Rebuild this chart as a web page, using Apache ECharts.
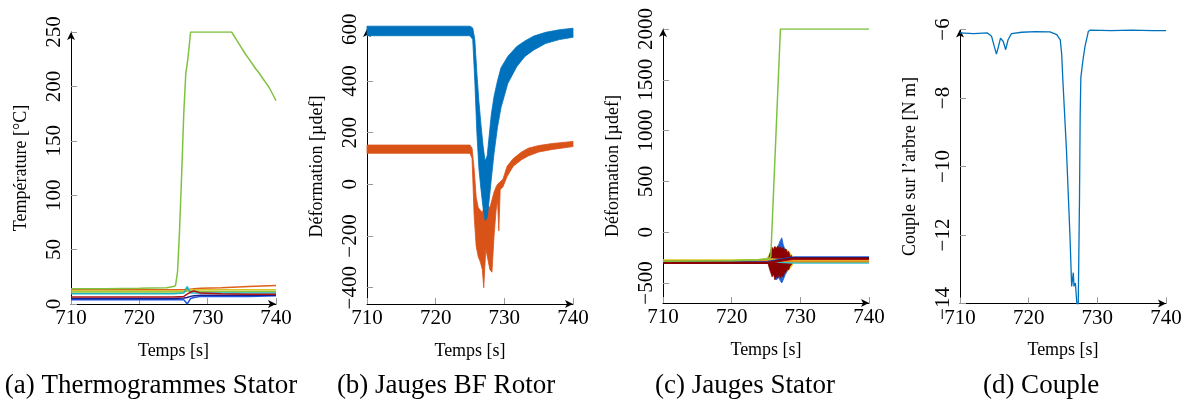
<!DOCTYPE html>
<html><head><meta charset="utf-8">
<script src="https://cdn.jsdelivr.net/npm/echarts@6/dist/echarts.min.js"></script>
<style>html,body{margin:0;padding:0;background:#fff}#c{width:1192px;height:405px}</style>
</head><body><div id="c"></div><script>
// ---------- tick labels ----------
var X_TICKS = [710, 720, 730, 740];
var A_TICKS = [0, 50, 100, 150, 200, 250];
var B_TICKS = [-400, -200, 0, 200, 400, 600];
var C_TICKS = [-500, 0, 500, 1000, 1500, 2000];
var D_TICKS = [-14, -12, -10, -8, -6];
var CAPTIONS = ['(a) Thermogrammes Stator', '(b) Jauges BF Rotor', '(c) Jauges Stator', '(d) Couple'];
var Y_NAMES = ['Température [°C]', 'Déformation [µdef]', 'Déformation [µdef]', 'Couple sur l’arbre [N m]'];
var X_NAME = 'Temps [s]';

// ---------- (a) Thermogrammes Stator ----------
var A_T_GREEN = [710, 715, 720, 724, 725, 725.3, 725.6, 725.9, 726.2, 726.5, 726.8, 727.1, 727.5, 733.5, 734, 734.5, 735, 735.5, 736, 736.5, 737, 737.5, 738, 738.5, 739, 739.5, 740];
var A_GREEN = [14, 14, 14.5, 15, 16, 17, 30, 70, 120, 175, 212, 225, 250, 250, 245, 240, 235, 230, 225.5, 221, 216.5, 212.5, 208, 203.5, 199, 193, 187];
var A_T = [710, 720, 725, 726.5, 727, 727.5, 728, 729, 732, 736, 740];
var A_ORANGE = [13, 13, 13, 13, 13.5, 13.5, 14, 14.5, 15, 16, 17];
var A_YELLOW = [12, 12, 12, 12, 12.5, 13, 13, 13, 13, 13, 13];
var A_LGREEN = [11, 11, 11, 11, 12, 12, 12, 11.5, 11.5, 11.5, 11.5];
var A_TEAL = [9.5, 9.5, 9.5, 10, 16, 10, 10, 10, 10, 10, 10];
var A_RED = [6.5, 6.5, 6.5, 7, 9, 11, 12, 10, 9.5, 9, 9];
var A_DBLUE = [5, 5, 5, 5.5, 6, 7, 7.5, 8, 8, 8, 8];
var A_BLUE = [4, 4, 4, 4, 0, 5, 6, 7, 7, 7, 7.5];

// ---------- (b) Jauges BF Rotor (noise envelopes) ----------
var B_T_BLUE = [710, 725, 725.4, 725.7, 726.0, 726.3, 726.6, 726.9, 727.2, 727.5, 727.8, 728.1, 728.5, 729, 729.5, 730.5, 731.8, 733, 734.3, 736, 738, 740];
var B_BLUE_HI = [612, 612, 605, 560, 430, 320, 230, 150, 90, 110, 190, 270, 340, 400, 450, 495, 533, 555, 574, 588, 598, 604];
var B_BLUE_LO = [575, 575, 560, 400, 200, 60, -20, -90, -140, -130, -60, 20, 120, 220, 295, 390, 455, 495, 520, 545, 560, 569];
var B_T_OR = [710, 725, 725.3, 725.6, 725.9, 726.2, 726.5, 726.8, 727.0, 727.3, 727.6, 727.9, 728.2, 728.5, 728.8, 729.0, 729.2, 729.4, 729.8, 730.4, 731.3, 732.5, 733.5, 735, 737, 740];
var B_OR_HI = [152, 152, 140, 60, -50, -90, -100, -110, -90, -60, -80, -90, -60, -30, -10, 0, 5, 10, 20, 70, 100, 125, 140, 150, 158, 166];
var B_OR_LO = [120, 120, 100, -120, -240, -280, -300, -330, -400, -250, -290, -330, -340, -200, -100, -60, -180, -20, -10, 30, 70, 95, 110, 125, 135, 146];

// ---------- (c) Jauges Stator ----------
var C_T_GREEN = [710, 720, 724, 725.4, 725.7, 727.1, 740];
var C_GREEN = [-285, -280, -272, -262, -240, 2000, 2000];
var C_T = [710, 720, 724, 725.3, 728.8, 729.2, 735, 740];
var C_CYAN = [-292, -292, -290, -285, -300, -302, -302, -302];
var C_YELLOW = [-276, -276, -272, -265, -280, -282, -282, -282];
var C_ORANGE = [-284, -284, -282, -278, -286, -288, -288, -288];
var C_BLUE = [-295, -295, -295, -290, -248, -247, -247, -247];
var C_DBLUE = [-298, -298, -298, -295, -253, -253, -253, -253];
var C_RED = [-300, -300, -300, -300, -263, -263, -263, -263];
var C_DRED = [-304, -304, -304, -304, -258, -258, -258, -258];
var C_T_YB = [725.0, 725.4, 725.8, 726.2, 726.8, 727.5, 728.2, 728.8, 729.0];
var C_YB_HI = [-270, -230, -160, -150, -150, -150, -180, -230, -275];
var C_YB_LO = [-290, -320, -360, -400, -420, -400, -380, -330, -290];
var C_T_BB = [725.5, 726, 726.5, 726.8, 727.1, 727.3, 727.5, 727.8, 728.1, 728.5];
var C_BB_HI = [-290, -220, -170, -130, -80, -55, -120, -180, -210, -260];
var C_BB_LO = [-300, -400, -470, -440, -480, -500, -470, -420, -380, -300];
var C_T_RB = [725.3, 725.5, 725.7, 725.9, 726.1, 726.3, 726.5, 726.7, 726.9, 727.1, 727.3, 727.5, 727.7, 727.9, 728.1, 728.3, 728.5, 728.7, 728.8];
var C_RB_HI = [-285, -230, -190, -150, -175, -140, -165, -135, -160, -145, -170, -150, -175, -165, -200, -190, -240, -230, -270];
var C_RB_LO = [-305, -360, -400, -440, -410, -470, -430, -455, -410, -450, -420, -440, -400, -390, -360, -370, -330, -320, -300];

// ---------- (d) Couple ----------
var D_T = [710, 712, 714, 714.6, 715.0, 715.3, 715.6, 715.9, 716.3, 716.65, 717.0, 717.5, 719, 721, 723.1, 724.1, 724.6, 724.8, 725.0, 725.5, 726.0, 726.26, 726.5, 726.6, 726.8, 727.0, 727.2, 727.3, 727.4, 727.5, 727.6, 727.9, 728.2, 728.4, 728.7, 729, 732, 735, 738, 740];
var D_V = [-6.1, -6.12, -6.1, -6.2, -6.5, -6.72, -6.5, -6.25, -6.35, -6.59, -6.3, -6.12, -6.08, -6.06, -6.07, -6.15, -6.3, -6.7, -7.56, -9.5, -11.95, -13.5, -13.1, -13.5, -13.4, -13.95, -14.3, -14.3, -11.0, -8.5, -7.4, -6.9, -6.5, -6.45, -6.05, -6.02, -6.03, -6.02, -6.03, -6.03];

// ---------- helpers ----------
var F = '"Liberation Serif", "Times New Roman", serif';
function zip(xs, ys) { return xs.map(function (x, i) { return [x, ys[i]]; }); }
function line(xs, ys, color, gi, w) {
  return { type: 'line', xAxisIndex: gi, yAxisIndex: gi, data: zip(xs, ys), showSymbol: false,
    symbol: 'none', lineStyle: { color: color, width: w || 1.5 }, silent: true, animation: false };
}
function band(xs, lo, hi, color, gi) {
  return { type: 'custom', xAxisIndex: gi, yAxisIndex: gi, silent: true, animation: false,
    data: xs.map(function (x, i) { return [x, lo[i], hi[i]]; }),
    encode: { x: 0, y: [1, 2] },
    renderItem: function (params, api) {
      if (params.dataIndexInside !== 0) return null;
      var pts = [], i;
      for (i = 0; i < xs.length; i++) pts.push(api.coord([xs[i], hi[i]]));
      for (i = xs.length - 1; i >= 0; i--) pts.push(api.coord([xs[i], lo[i]]));
      return { type: 'polygon', shape: { points: pts }, style: { fill: color, stroke: color, lineWidth: 0.8 } };
    } };
}
function xAx(gi) {
  return { type: 'value', gridIndex: gi, min: 710, max: 740, name: X_NAME, nameLocation: 'middle', nameGap: 38,
    nameTextStyle: { fontFamily: F, fontSize: 18, color: '#000' },
    axisLine: { onZero: false, lineStyle: { color: '#000', width: 1 }, symbol: ['none', 'arrow'], symbolSize: [6, 8] },
    axisTick: { inside: true, length: 6, lineStyle: { color: '#999' }, customValues: X_TICKS },
    axisLabel: { fontFamily: F, fontSize: 21, color: '#000', margin: 4, customValues: X_TICKS },
    splitLine: { show: false } };
}
function yAx(gi, min, max, ticks) {
  return { type: 'value', gridIndex: gi, min: min, max: max, name: Y_NAMES[gi], nameLocation: 'middle', nameGap: 41,
    nameTextStyle: { fontFamily: F, fontSize: 18, color: '#000' },
    axisLine: { onZero: false, lineStyle: { color: '#000', width: 1 }, symbol: ['none', 'arrow'], symbolSize: [6, 8] },
    axisTick: { inside: true, length: 6, lineStyle: { color: '#999' }, customValues: ticks },
    axisLabel: { rotate: 90, fontFamily: F, fontSize: 21, color: '#000', margin: 6, customValues: ticks,
      formatter: function (v) { return String(v).replace('-', '\u2212'); } },
    splitLine: { show: false } };
}

var G = '#7fc241';
var series = [
  line(A_T, A_ORANGE, '#e0601a', 0), line(A_T, A_YELLOW, '#d6c426', 0), line(A_T, A_LGREEN, '#8cc63f', 0),
  line(A_T, A_TEAL, '#1fb5c0', 0), line(A_T, A_BLUE, '#1f55e0', 0), line(A_T, A_DBLUE, '#1c1c8c', 0),
  line(A_T, A_RED, '#b01414', 0), line(A_T_GREEN, A_GREEN, G, 0),
  band(B_T_OR, B_OR_LO, B_OR_HI, '#d95319', 1), band(B_T_BLUE, B_BLUE_LO, B_BLUE_HI, '#0072bd', 1),
  line(C_T, C_CYAN, '#30c4cc', 2, 2), line(C_T, C_YELLOW, '#d8cc20', 2, 2), line(C_T, C_ORANGE, '#e09020', 2, 2),
  line(C_T, C_BLUE, '#1f5fd8', 2, 2), line(C_T, C_DBLUE, '#1c1c8c', 2, 2), line(C_T, C_RED, '#c82020', 2, 2),
  line(C_T, C_DRED, '#8b0000', 2, 2), line(C_T_GREEN, C_GREEN, G, 2, 1.5),
  band(C_T_YB, C_YB_LO, C_YB_HI, '#d8c020', 2), band(C_T_BB, C_BB_LO, C_BB_HI, '#1f5fd8', 2),
  band(C_T_RB, C_RB_LO, C_RB_HI, '#8b0000', 2),
  line(D_T, D_V, '#0072bd', 3, 1.3)
];

var graphic = [];
var capX = [151, 446, 745, 1041];
for (var i = 0; i < 4; i++) {
  graphic.push({ type: 'text', x: capX[i], y: 386, silent: true,
    style: { text: CAPTIONS[i], fill: '#000', font: '27px ' + F, textAlign: 'center', textVerticalAlign: 'middle' } });
}

var chart = echarts.init(document.getElementById('c'), null, { renderer: 'canvas' });
chart.setOption({
  animation: false,
  backgroundColor: '#fff',
  grid: [
    { left: 71, top: 32, width: 205, height: 272 },
    { left: 367, top: 29, width: 206, height: 275 },
    { left: 663, top: 29, width: 206, height: 274 },
    { left: 960, top: 29.5, width: 206, height: 274 }
  ],
  xAxis: [xAx(0), xAx(1), xAx(2), xAx(3)],
  yAxis: [yAx(0, 0, 250, A_TICKS), yAx(1, -463, 601, B_TICKS), yAx(2, -697, 2000, C_TICKS), yAx(3, -14, -6, D_TICKS)],
  series: series,
  graphic: graphic
});
</script></body></html>
